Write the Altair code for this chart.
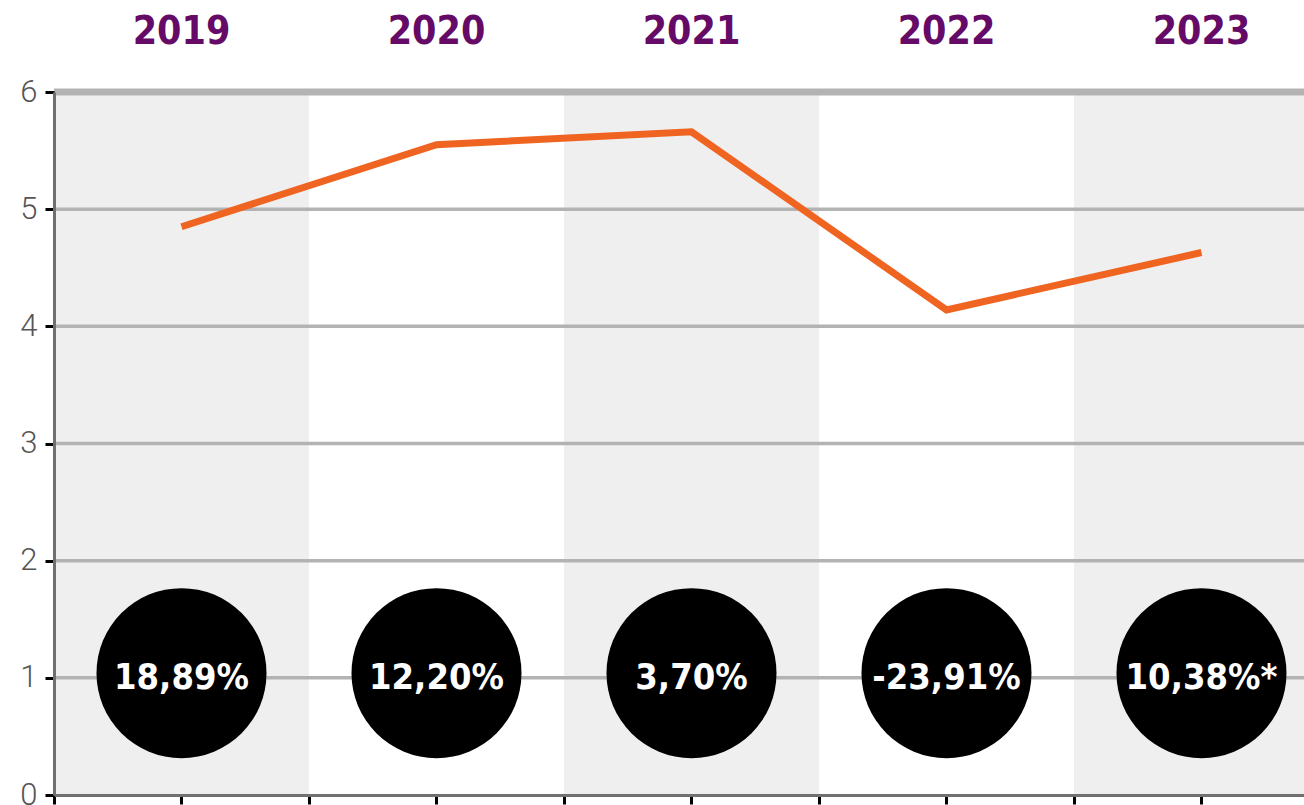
import altair as alt
import pandas as pd

years = ["2019", "2020", "2021", "2022", "2023"]
values = [4.85, 5.55, 5.66, 4.14, 4.63]
changes = ["18,89%", "12,20%", "3,70%", "-23,91%", "10,38%*"]
y_ticks = [0, 1, 2, 3, 4, 5, 6]
grid_levels = [1, 2, 3, 4, 5]

pos = [i + 0.5 for i in range(len(years))]
df = pd.DataFrame({"year": years, "pos": pos, "value": values, "change": changes})
bands = pd.DataFrame({"x": [0, 2, 4], "x2": [1, 3, 5]})
grid = pd.DataFrame({"y": grid_levels})
top = pd.DataFrame({"y": [6]})

XMAX = 4.902
xs = alt.Scale(domain=[0, XMAX], nice=False, zero=False)
ys = alt.Scale(domain=[0, 6], nice=False)

x_axis = alt.Axis(values=[i * 0.5 for i in range(10)], labels=False, title=None, grid=False,
                  domainColor="#707070", domainWidth=3, tickColor="#000000", tickWidth=3,
                  tickSize=9, zindex=1)
y_axis = alt.Axis(values=y_ticks, format="d", title=None, grid=False, domainColor="#707070",
                  domainWidth=3, tickColor="#000000", tickWidth=3, tickSize=9,
                  labelFont="Roboto", labelFontWeight=300, labelFontSize=31,
                  labelColor="#555555", labelPadding=8, zindex=1)

band_layer = alt.Chart(bands).mark_rect(color="#efefef", clip=True).encode(
    x=alt.X("x:Q", scale=xs, axis=x_axis), x2="x2:Q",
    y=alt.value(0), y2=alt.value(703))

grid_layer = alt.Chart(grid).mark_rule(color="#b3b3b3", strokeWidth=3.5).encode(
    y=alt.Y("y:Q", scale=ys, axis=y_axis))

top_layer = alt.Chart(top).mark_rule(color="#b3b3b3", strokeWidth=7).encode(
    y=alt.Y("y:Q", scale=ys))

line_layer = alt.Chart(df).mark_line(color="#ef6420", strokeWidth=7, strokeCap="butt").encode(
    x=alt.X("pos:Q", scale=xs), y=alt.Y("value:Q", scale=ys))

circle_layer = alt.Chart(df).mark_point(shape="circle", filled=True, color="#000000", opacity=1,
                                        size=28900).encode(
    x=alt.X("pos:Q", scale=xs), y=alt.Y("cy:Q", scale=ys)).transform_calculate(cy="1.04")

text_layer = alt.Chart(df).mark_text(color="#ffffff", font="DejaVu Sans Condensed", fontSize=36,
                                     fontWeight="bold", baseline="middle", align="center").encode(
    x=alt.X("pos:Q", scale=xs), y=alt.Y("cy:Q", scale=ys), text="change:N").transform_calculate(cy="1")

year_layer = alt.Chart(df).mark_text(color="#650a66", font="DejaVu Sans Condensed", fontSize=39,
                                     fontWeight="bold", baseline="middle", align="center").encode(
    x=alt.X("pos:Q", scale=xs), y=alt.value(-60), text="year:N")

chart = alt.layer(band_layer, grid_layer, top_layer, line_layer, circle_layer, text_layer,
                  year_layer).properties(
    width=1250, height=703,
    padding={"left": 54, "top": 92, "right": 0, "bottom": 10},
    autosize=alt.AutoSizeParams(type="none"),
).configure_view(stroke=None)

chart.save("out.html", embed_options={"renderer": "svg", "actions": False})
